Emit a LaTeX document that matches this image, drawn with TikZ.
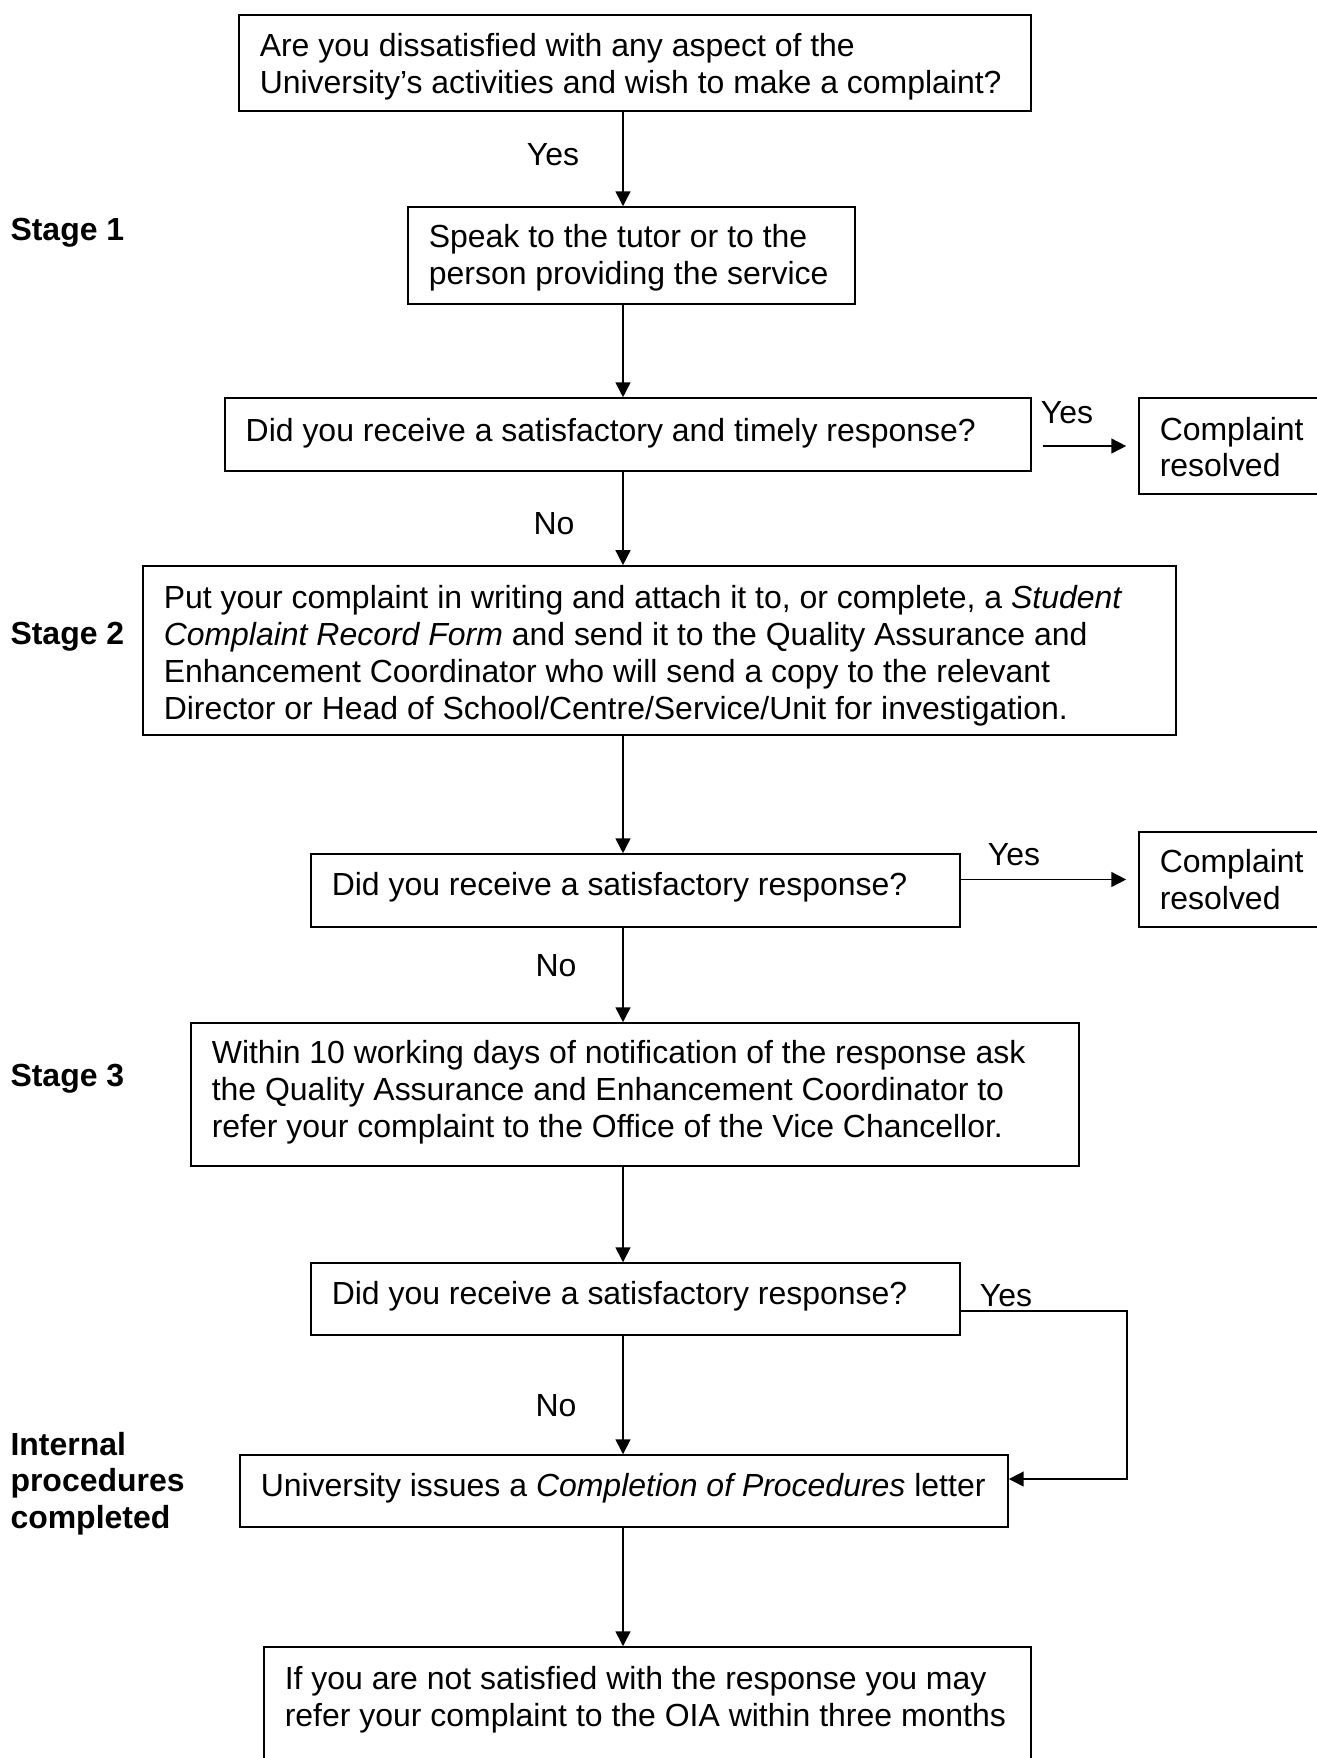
\documentclass[tikz,border=0pt]{standalone}
\usepackage{fontspec}
\setmainfont{Liberation Sans}
\usetikzlibrary{arrows.meta}
\begin{document}
\begin{tikzpicture}[x=0.3755pt,y=-0.3755pt,
  every node/.style={font=\fontsize{12}{13.8}\selectfont},
  box/.style={draw,line width=0.6pt,rectangle,inner sep=0pt},
  txt/.style={inner sep=0pt,anchor=west,align=left},
  lbl/.style={inner sep=0pt},
  stagelbl/.style={inner sep=0pt,anchor=west,font=\fontsize{12}{13.8}\selectfont\bfseries,align=left},
  conn/.style={line width=0.6pt,-{Triangle[length=5.6pt,width=5.6pt]}}]
\useasboundingbox (0,0) rectangle (1317,1758);
\coordinate (spine) at (623,0);

% boxes
\node[box,minimum width=297.4pt,minimum height=36pt] (b1) at (635,63) {};
\node[box,minimum width=167.8pt,minimum height=36.4pt] (b2) at (631.5,255.5) {};
\node[box,minimum width=302.7pt,minimum height=27.4pt] (b3) at (628,434.5) {};
\node[box,minimum width=75.5pt,minimum height=36pt] (cr1) at (1239.5,446) {};
\node[box,minimum width=387.9pt,minimum height=63.5pt] (b4) at (659.5,650.5) {};
\node[box,minimum width=243.7pt,minimum height=27.4pt] (b5) at (635.5,890.5) {};
\node[box,minimum width=75.5pt,minimum height=35.7pt] (cr2) at (1239.5,879.5) {};
\node[box,minimum width=333.4pt,minimum height=53.7pt] (b6) at (635,1094.5) {};
\node[box,minimum width=243.7pt,minimum height=27pt] (b7) at (635.5,1299) {};
\node[box,minimum width=288.4pt,minimum height=27pt] (b8) at (624,1491) {};
\node[box,minimum width=288pt,minimum height=51.8pt] (b9) at (647.5,1716) {};

% box texts
\node[txt] (t1) at ([xshift=7.9pt,yshift=-1.3pt]b1.west)
  {Are you dissatisfied with any aspect of the\\University’s activities and wish to make a complaint?};
\node[txt] (t2) at ([xshift=7.9pt,yshift=-0.8pt]b2.west)
  {Speak to the tutor or to the\\person providing the service};
\node[txt] (t3) at ([xshift=7.9pt,yshift=0.5pt]b3.west)
  {Did you receive a satisfactory and timely response?};
\node[txt] (tcr1) at ([xshift=7.9pt,yshift=-0.4pt]cr1.west) {Complaint\\resolved};
\node[txt] (t4) at ([xshift=7.9pt,yshift=-2pt]b4.west)
  {Put your complaint in writing and attach it to, or complete, a \textit{Student}\\
   \textit{Complaint Record Form} and send it to the Quality Assurance and\\
   Enhancement Coordinator who will send a copy to the relevant\\
   Director or Head of School/Centre/Service/Unit for investigation.};
\node[txt] (t5) at ([xshift=7.9pt,yshift=1.2pt]b5.west)
  {Did you receive a satisfactory response?};
\node[txt] (tcr2) at ([xshift=7.9pt]cr2.west) {Complaint\\resolved};
\node[txt] (t6) at ([xshift=7.9pt,yshift=0.9pt]b6.west)
  {Within 10 working days of notification of the response ask\\
   the Quality Assurance and Enhancement Coordinator to\\
   refer your complaint to the Office of the Vice Chancellor.};
\node[txt] (t7) at ([xshift=7.9pt,yshift=1.2pt]b7.west)
  {Did you receive a satisfactory response?};
\node[txt] (t8) at ([xshift=7.9pt,yshift=1.2pt]b8.west)
  {University issues a \textit{Completion of Procedures} letter};
\node[txt] (t9) at ([xshift=7.9pt,yshift=6pt]b9.west)
  {If you are not satisfied with the response you may\\
   refer your complaint to the OIA within three months};

% stage labels
\node[stagelbl] (s1) at (10,232.5) {Stage 1};
\node[stagelbl] (s2) at (10,637) {Stage 2};
\node[stagelbl] (s3) at (10,1079) {Stage 3};
\node[stagelbl] (s4) at (10,1483.5) {Internal\\procedures\\completed};

% yes / no labels
\node[lbl] (y1) at (553,155) {Yes};
\node[lbl] (y2) at (1067,413) {Yes};
\node[lbl] (n1) at (554,524) {No};
\node[lbl] (y3) at (1014,854.5) {Yes};
\node[lbl] (n2) at (556,965.5) {No};
\node[lbl] (y4) at (1006,1296) {Yes};
\node[lbl] (n3) at (556,1406) {No};

% main connectors
\draw[conn] (b1.south -| spine) -- (b2.north -| spine);
\draw[conn] (b2.south -| spine) -- (b3.north -| spine);
\draw[conn] (b3.south -| spine) -- (b4.north -| spine);
\draw[conn] (b4.south -| spine) -- (b5.north -| spine);
\draw[conn] (b5.south -| spine) -- (b6.north -| spine);
\draw[conn] (b6.south -| spine) -- (b7.north -| spine);
\draw[conn] (b7.south -| spine) -- (b8.north -| spine);
\draw[conn] (b8.south -| spine) -- (b9.north -| spine);

% side connectors
\draw[conn,shorten <=4pt,shorten >=4.5pt] (b3.east |- cr1.west) -- (cr1.west);
\draw[conn,shorten >=4.5pt] (b5.east |- cr2.west) -- (cr2.west);
\coordinate (c1) at (1127,1311);
\coordinate (c2) at (1127,1479);
\draw[conn] (b7.east |- c1) -- (c1) -- (c2) -- (b8.east |- c2);
\end{tikzpicture}
\end{document}
